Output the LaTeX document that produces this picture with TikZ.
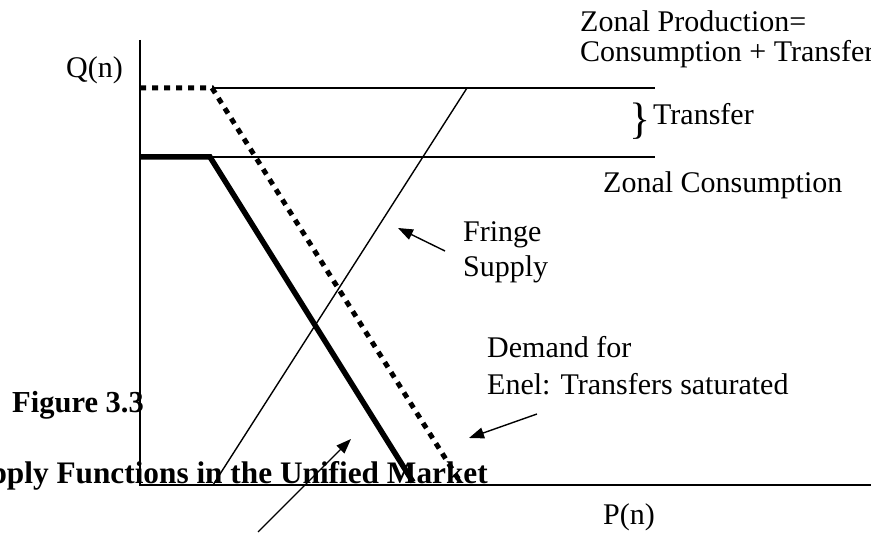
\documentclass[tikz,border=0pt]{standalone}
\usepackage{fontspec}
\setmainfont{Liberation Serif}
\usetikzlibrary{arrows.meta}
\begin{document}
\begin{tikzpicture}[x=1pt,y=-1pt,
  thinline/.style={line width=1.4pt},
  thickline/.style={line width=5.5pt},
  dotline/.style={line width=5pt,dash pattern=on 6pt off 6pt},
  pointer/.style={line width=1.4pt,-{Triangle[length=15pt,width=11pt]}},
  lbl/.style={inner sep=0pt,anchor=base west,font=\fontsize{30}{36}\selectfont},
  blbl/.style={lbl,font=\fontsize{30.5}{36}\selectfont\bfseries}]
\useasboundingbox (0,0) rectangle (871,534);
% axes
\coordinate (ytop) at (140,40);
\coordinate (orig) at (140,485);
\coordinate (xend) at (871,485);
\draw[thinline] (ytop) -- (orig) -- (xend);
% horizontal levels
\coordinate (p0) at (140,88);
\coordinate (p1) at (212,88);
\coordinate (p2) at (655,88);
\coordinate (c0) at (140,157);
\coordinate (c1) at (210,157);
\coordinate (c2) at (655,157);
\draw[thinline] (p1) -- (p2);
\draw[thinline] (c1) -- (c2);
% fringe supply
\coordinate (f0) at (213,485);
\coordinate (f1) at (467,88);
\draw[thinline] (f0) -- (f1);
% demand curves
\coordinate (d1) at (459,480);
\draw[dotline] (p0) -- (p1) -- (d1);
\coordinate (e1) at (413,482);
\draw[thickline] (c0) -- (c1) -- (e1);
% labels
\node[lbl] (qn) at (66,78) {Q(n)};
\node[lbl] (pn) at (603,525) {P(n)};
\node[lbl] (zp1) at (580,32) {Zonal Production=};
\node[lbl] (zp2) at (580,62) {Consumption + Transfer};
\node[inner sep=0pt,anchor=base west,font=\fontsize{44}{44}\selectfont] (br) at (629,134) {\}};
\node[lbl] (tr) at (653,125) {Transfer};
\node[lbl] (zc) at (603,193) {Zonal Consumption};
\node[lbl] (fr1) at (463,242) {Fringe};
\node[lbl] (fr2) at (463,277) {Supply};
\node[lbl] (dm1) at (487,358) {Demand for};
\node[lbl] (dm2) at (487,395) {Enel: Transfers saturated};
\node[blbl] (fig) at (12,413) {Figure 3.3};
\node[blbl,anchor=base east,font=\fontsize{31.3}{36}\selectfont\bfseries] (ttl) at (488,484) {Supply Functions in the Unified Market};
% pointers
\coordinate (fa0) at (445,251);
\coordinate (fa1) at (398,228);
\draw[pointer] (fa0) -- (fa1);
\coordinate (da0) at (537,414);
\coordinate (da1) at (469,438);
\draw[pointer] (da0) -- (da1);
\coordinate (ba0) at (258,532);
\coordinate (ba1) at (351,439);
\draw[pointer] (ba0) -- (ba1);
\end{tikzpicture}
\end{document}
